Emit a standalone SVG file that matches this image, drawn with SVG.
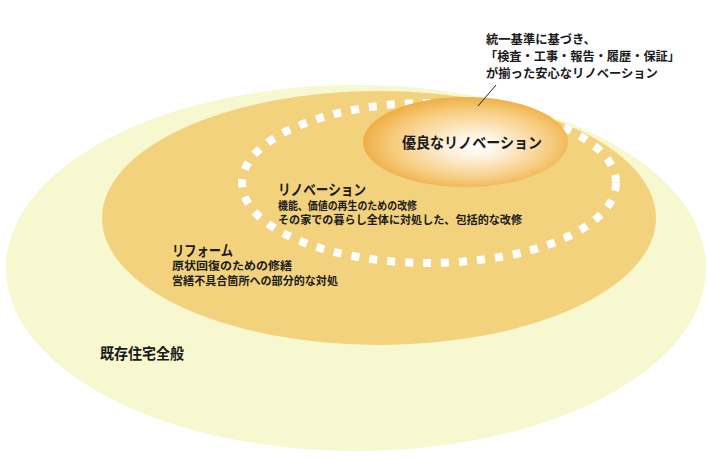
<svg xmlns="http://www.w3.org/2000/svg" width="708" height="460" viewBox="0 0 708 460">
  <defs>
    <radialGradient id="goodGrad" cx="0.52" cy="0.52" r="0.55" fx="0.56" fy="0.55">
      <stop offset="0" stop-color="#ffffff"/>
      <stop offset="0.25" stop-color="#fdf1dc"/>
      <stop offset="0.7" stop-color="#f6cc7e"/>
      <stop offset="1" stop-color="#efa93a"/>
    </radialGradient>
    <style>
      text { font-family: "Liberation Sans", "Noto Sans CJK JP", sans-serif; font-weight: bold; fill: #1a1a1a; }
      .title { font-size: 15px; }
      .sub { font-size: 14.5px; }
      .desc { font-size: 11px; }
      .note { font-size: 12.3px; }
      .leader { stroke: #222; stroke-width: 1; fill: none; }
    </style>
  </defs>
  <rect width="708" height="460" fill="#ffffff"/>

  <g id="node-existing">
    <ellipse cx="356" cy="268" rx="350" ry="183" fill="#f7f7d0"/>
    <text class="title" x="100" y="359" textLength="84" lengthAdjust="spacingAndGlyphs">既存住宅全般</text>
  </g>

  <g id="node-reform">
    <ellipse cx="379" cy="218" rx="277" ry="127" fill="#f2d27c"/>
    <text class="sub" x="172" y="256" textLength="61" lengthAdjust="spacingAndGlyphs">リフォーム</text>
    <text class="desc" x="172" y="270" textLength="120" lengthAdjust="spacingAndGlyphs">原状回復のための修繕</text>
    <text class="desc" x="172" y="285" textLength="166" lengthAdjust="spacingAndGlyphs">営繕不具合箇所への部分的な対処</text>
  </g>

  <g id="node-renovation">
    <ellipse cx="429" cy="183" rx="187" ry="80" fill="none" stroke="#ffffff" stroke-width="8" stroke-dasharray="8 10"/>
    <text class="title" x="278" y="195" textLength="88" lengthAdjust="spacingAndGlyphs">リノベーション</text>
    <text class="desc" x="278" y="210" textLength="139" lengthAdjust="spacingAndGlyphs">機能、価値の再生のための改修</text>
    <text class="desc" x="278" y="224" textLength="244" lengthAdjust="spacingAndGlyphs">その家での暮らし全体に対処した、包括的な改修</text>
  </g>

  <g id="node-good-renovation">
    <ellipse cx="465.5" cy="142" rx="102.5" ry="45" fill="url(#goodGrad)"/>
    <text class="title" x="402" y="148" textLength="140" lengthAdjust="spacingAndGlyphs">優良なリノベーション</text>
  </g>

  <g id="node-note">
    <text class="note" x="486" y="44">統一基準に基づき、</text>
    <text class="note" x="485" y="61" textLength="195" lengthAdjust="spacingAndGlyphs">「検査・工事・報告・履歴・保証」</text>
    <text class="note" x="486" y="78">が揃った安心なリノベーション</text>
  </g>

  <g id="connectors">
    <line class="leader" x1="478" y1="106" x2="496" y2="85"/>
  </g>
</svg>
